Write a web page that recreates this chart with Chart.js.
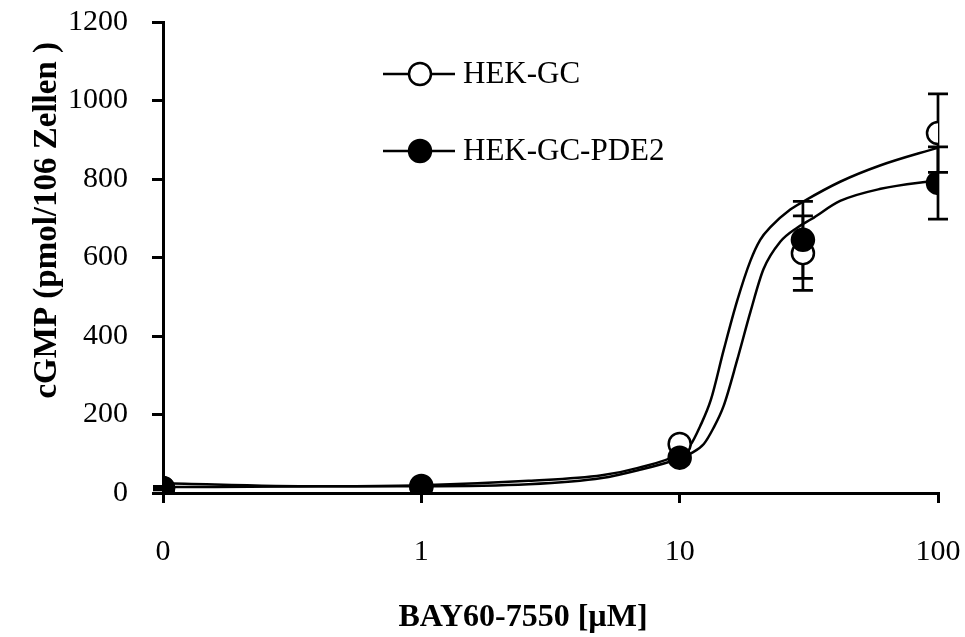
<!DOCTYPE html>
<html>
<head>
<meta charset="utf-8">
<script src="https://cdn.jsdelivr.net/npm/chart.js@4.4.0/dist/chart.umd.min.js"></script>
<style>
  html, body { margin: 0; padding: 0; background: #fff; }
</style>
</head>
<body>
<canvas id="chart" width="965" height="637"></canvas>
<script>
'use strict';

// measured points, concentration in µM (0.1 stands for the "0" control)
const conc = [0.1, 1, 10, 30, 100];
const gcValues = [12, 15, 125, 611, 917];
const gcErrors = [4, 4, 8, 95, 100];
const pde2Values = [13, 18, 90, 645, 790];
const pde2Errors = [4, 4, 8, 98, 92];

// fitted curves
const gcCurveX = [0.1, 0.4, 1, 2.6, 5, 6.9, 10, 11, 12, 13.2, 14.8, 16.7, 18.8, 20.5, 22.5, 26.8, 30, 41.8, 60, 100];
const gcCurveY = [15, 17, 20, 31, 45, 64, 100, 122, 170, 237, 364, 490, 592, 645, 678, 722, 742, 793, 835, 880];
const pde2CurveX = [0.1, 0.4, 1, 2.6, 5, 6.9, 10, 11, 12.4, 13.5, 14.8, 16.7, 18.8, 21.1, 24.5, 28.5, 32.4, 41.8, 60, 100];
const pde2CurveY = [25, 17, 17, 22, 38, 58, 88, 100, 125, 165, 222, 339, 462, 570, 640, 676, 698, 744, 775, 797];

const xTicks = [0.1, 1, 10, 100];
const xTickLabels = ['0', '1', '10', '100'];
const yMin = 0, yMax = 1200, yStep = 200;

const xTitle = 'BAY60-7550 [µM]';
const yTitle = 'cGMP (pmol/106 Zellen )';

const serif = '"Liberation Serif", "Times New Roman", serif';

function toPoints(xs, ys) {
  return xs.map((v, i) => ({ x: v, y: ys[i] }));
}

// vertical error bars with caps, drawn under the markers
const errorBars = {
  id: 'errorBars',
  beforeDatasetsDraw(chart) {
    const { ctx, scales: { x, y } } = chart;
    ctx.save();
    ctx.strokeStyle = '#000';
    ctx.lineWidth = 2.7;
    chart.data.datasets.forEach(ds => {
      if (!ds.errors) return;
      ds.data.forEach((p, i) => {
        const px = x.getPixelForValue(p.x);
        const top = y.getPixelForValue(p.y + ds.errors[i]);
        const bot = y.getPixelForValue(p.y - ds.errors[i]);
        ctx.beginPath();
        ctx.moveTo(px, top); ctx.lineTo(px, bot);
        ctx.moveTo(px - 10, top); ctx.lineTo(px + 10, top);
        ctx.moveTo(px - 10, bot); ctx.lineTo(px + 10, bot);
        ctx.stroke();
      });
    });
    ctx.restore();
  }
};

// legend: line - marker - line, then the label
const markerLegend = {
  id: 'markerLegend',
  afterDraw(chart) {
    const { ctx } = chart;
    const items = chart.data.datasets
      .filter(ds => ds.legendRow !== undefined)
      .sort((a, b) => a.legendRow - b.legendRow);
    ctx.save();
    items.forEach((ds, i) => {
      const cy = 74 + i * 77;
      ctx.strokeStyle = '#000';
      ctx.lineWidth = 2.5;
      ctx.beginPath();
      ctx.moveTo(383, cy); ctx.lineTo(455, cy);
      ctx.stroke();
      ctx.beginPath();
      ctx.arc(420, cy, 11, 0, Math.PI * 2);
      ctx.fillStyle = ds.pointBackgroundColor;
      ctx.fill();
      ctx.stroke();
      ctx.fillStyle = '#000';
      ctx.font = '31px ' + serif;
      ctx.textBaseline = 'middle';
      ctx.fillText(ds.label, 463, cy + 1);
    });
    ctx.restore();
  }
};

// axis titles, placed as in the figure (x title sits left of centre, y title below the top)
const axisTitles = {
  id: 'axisTitles',
  afterDraw(chart) {
    const { ctx } = chart;
    ctx.save();
    ctx.fillStyle = '#000';
    ctx.font = 'bold 32px ' + serif;
    ctx.textBaseline = 'alphabetic';
    ctx.textAlign = 'center';
    ctx.fillText(xTitle, 523, 626);
    ctx.font = 'bold 33px ' + serif;
    ctx.translate(56, 42);
    ctx.rotate(-Math.PI / 2);
    ctx.textAlign = 'right';
    ctx.fillText(yTitle, 0, 0);
    ctx.restore();
  }
};

const config = {
  type: 'scatter',
  data: {
    datasets: [
      {
        label: 'HEK-GC-PDE2',
        data: toPoints(conc, pde2Values),
        errors: pde2Errors,
        legendRow: 1,
        pointRadius: 11,
        pointHoverRadius: 11,
        pointBackgroundColor: '#000',
        pointBorderColor: '#000',
        pointBorderWidth: 2.5,
        order: 0
      },
      {
        label: 'HEK-GC',
        data: toPoints(conc, gcValues),
        errors: gcErrors,
        legendRow: 0,
        pointRadius: 11,
        pointHoverRadius: 11,
        pointBackgroundColor: '#fff',
        pointBorderColor: '#000',
        pointBorderWidth: 2.5,
        order: 1
      },
      {
        label: 'fit HEK-GC',
        data: toPoints(gcCurveX, gcCurveY),
        showLine: true,
        cubicInterpolationMode: 'monotone',
        borderColor: '#000',
        borderWidth: 2.5,
        pointRadius: 0,
        order: 2
      },
      {
        label: 'fit HEK-GC-PDE2',
        data: toPoints(pde2CurveX, pde2CurveY),
        showLine: true,
        cubicInterpolationMode: 'monotone',
        borderColor: '#000',
        borderWidth: 2.5,
        pointRadius: 0,
        order: 3
      }
    ]
  },
  options: {
    responsive: false,
    animation: false,
    layout: { padding: 0 },
    plugins: {
      legend: { display: false },
      tooltip: { enabled: false }
    },
    scales: {
      x: {
        type: 'logarithmic',
        min: 0.1,
        max: 100,
        afterBuildTicks(scale) {
          scale.ticks = xTicks.map(v => ({ value: v }));
        },
        afterFit(scale) {
          scale.height = 144;
          scale.paddingLeft = 0;
          scale.paddingRight = 27;
        },
        ticks: {
          color: '#000',
          font: { family: serif, size: 30 },
          padding: 31,
          maxRotation: 0,
          callback: (value, index) => xTickLabels[index]
        },
        grid: { drawOnChartArea: false, drawTicks: true, tickLength: 10, color: '#000', lineWidth: 3 },
        border: { color: '#000', width: 3 }
      },
      y: {
        min: yMin,
        max: yMax,
        afterFit(scale) {
          scale.width = 163;
          scale.paddingTop = 22;
          scale.paddingBottom = 0;
        },
        ticks: {
          stepSize: yStep,
          color: '#000',
          font: { family: serif, size: 30 },
          padding: 24,
          callback: value => String(value)
        },
        grid: { drawOnChartArea: false, drawTicks: true, tickLength: 11, color: '#000', lineWidth: 3 },
        border: { color: '#000', width: 3 }
      }
    }
  },
  plugins: [errorBars, markerLegend, axisTitles]
};

new Chart(document.getElementById('chart'), config);
</script>
</body>
</html>
